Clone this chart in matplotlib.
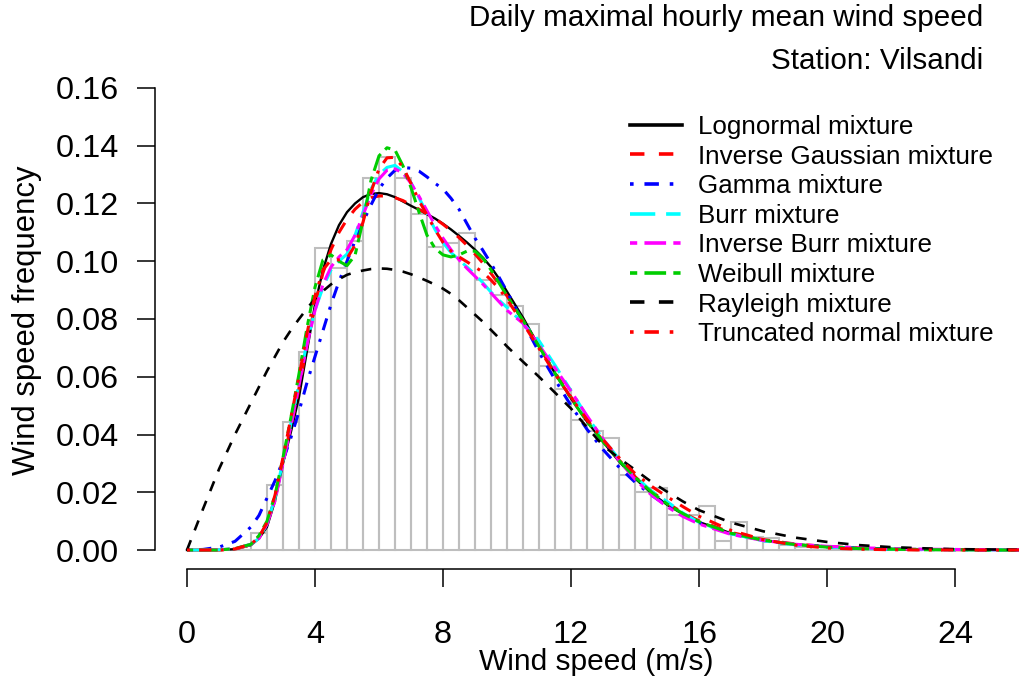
import numpy as np
import matplotlib
matplotlib.use("Agg")
import matplotlib.pyplot as plt

plt.rcParams['font.family'] = ['Liberation Sans', 'DejaVu Sans']

# ---------------- data ----------------
bin_width = 0.5
bin_left = [0.0, 0.5, 1.0, 1.5, 2.0, 2.5, 3.0, 3.5, 4.0, 4.5, 5.0, 5.5, 6.0, 6.5,
            7.0, 7.5, 8.0, 8.5, 9.0, 9.5, 10.0, 10.5, 11.0, 11.5, 12.0, 12.5,
            13.0, 13.5, 14.0, 14.5, 15.0, 15.5, 16.0, 16.5, 17.0, 17.5, 18.0,
            18.5, 19.0, 19.5, 20.0, 20.5, 21.0, 21.5, 22.0, 22.5, 23.0, 23.5,
            24.0, 24.5]
hist_density = [0, 0, 0, 0, 0.0058, 0.0225, 0.0444, 0.0687, 0.1047, 0.0975,
                0.1070, 0.1287, 0.1360, 0.1287, 0.1165, 0.1049, 0.1062, 0.1099,
                0.0935, 0.0883, 0.0846, 0.0783, 0.0638, 0.0556, 0.0450, 0.0412,
                0.0387, 0.0261, 0.0201, 0.0215, 0.0121, 0.0121, 0.0151, 0.0031,
                0.0098, 0.0046, 0.0040, 0.0017, 0.0012, 0.0012, 0.0006, 0.0006,
                0.0003, 0, 0, 0, 0, 0, 0, 0]

x_grid = [0, 0.5, 1, 1.5, 2, 2.25, 2.5, 2.75, 3, 3.25, 3.5, 3.75, 4, 4.25, 4.5,
          4.75, 5, 5.25, 5.5, 5.75, 6, 6.25, 6.5, 6.75, 7, 7.25, 7.5, 7.75, 8,
          8.25, 8.5, 8.75, 9, 9.25, 9.5, 9.75, 10, 10.5, 11, 11.5, 12, 12.5, 13,
          13.5, 14, 14.5, 15, 15.5, 16, 17, 18, 19, 20, 21, 22, 23, 24, 25, 26]

lognormal = [0, 0, 0, 0.0003, 0.0017, 0.004, 0.008, 0.017, 0.030, 0.041, 0.053,
             0.069, 0.085, 0.097, 0.106, 0.1125, 0.117, 0.1200, 0.1222, 0.1233,
             0.1236, 0.1232, 0.1222, 0.1207, 0.1192, 0.1178, 0.1163, 0.1148,
             0.1130, 0.1110, 0.1088, 0.1065, 0.1040, 0.1012, 0.0980, 0.0940,
             0.0895, 0.0805, 0.0705, 0.0612, 0.0525, 0.0445, 0.0375, 0.0307,
             0.0248, 0.0198, 0.0157, 0.0124, 0.0097, 0.0058, 0.0034, 0.0020,
             0.0012, 0.0007, 0.0004, 0.0002, 0.0001, 0.00005, 0]

inv_gaussian = [0, 0, 0, 0.0003, 0.0018, 0.0045, 0.009, 0.018, 0.031, 0.043,
                0.056, 0.071, 0.085, 0.096, 0.104, 0.110, 0.1145, 0.118, 0.1205,
                0.1220, 0.1226, 0.1226, 0.1220, 0.1210, 0.1195, 0.1180, 0.1165,
                0.1148, 0.1128, 0.1106, 0.1082, 0.1055, 0.1025, 0.0993, 0.0958,
                0.0920, 0.0880, 0.0795, 0.0705, 0.0615, 0.0530, 0.0450, 0.0378,
                0.0312, 0.0254, 0.0205, 0.0163, 0.0129, 0.0101, 0.0061, 0.0036,
                0.0021, 0.0012, 0.0007, 0.0004, 0.0002, 0.0001, 0.00005, 0]

gamma = [0, 0.0002, 0.001, 0.003, 0.008, 0.012, 0.018, 0.024, 0.031, 0.039,
         0.048, 0.058, 0.067, 0.076, 0.085, 0.093, 0.100, 0.107, 0.1135,
         0.1195, 0.125, 0.1288, 0.1315, 0.1325, 0.1322, 0.1312, 0.1292, 0.1270,
         0.1250, 0.1218, 0.1180, 0.1130, 0.1080, 0.1037, 0.0992, 0.0945,
         0.0895, 0.0790, 0.0685, 0.0590, 0.0500, 0.0418, 0.0348, 0.0287,
         0.0235, 0.0191, 0.0153, 0.0121, 0.0095, 0.0057, 0.0033, 0.0019,
         0.0011, 0.0006, 0.0003, 0.00015, 0.0001, 0.00005, 0]

burr = [0, 0, 0.0001, 0.0004, 0.002, 0.004, 0.009, 0.018, 0.031, 0.044, 0.058,
        0.072, 0.083, 0.091, 0.097, 0.100, 0.1025, 0.109, 0.117, 0.125, 0.130,
        0.1325, 0.1332, 0.1310, 0.1272, 0.1220, 0.1165, 0.1110, 0.1065,
        0.1030, 0.1005, 0.0980, 0.0955, 0.0925, 0.0893, 0.0865, 0.0840,
        0.0785, 0.0725, 0.0640, 0.0552, 0.0462, 0.0385, 0.0315, 0.0256,
        0.0205, 0.0168, 0.0128, 0.0096, 0.0056, 0.0032, 0.0018, 0.0010,
        0.0006, 0.0003, 0.0002, 0.0001, 0.00005, 0]

inv_burr = [0, 0, 0.0001, 0.0004, 0.002, 0.004, 0.009, 0.017, 0.030, 0.043,
            0.057, 0.071, 0.083, 0.092, 0.098, 0.1015, 0.104, 0.109, 0.116,
            0.123, 0.1285, 0.1315, 0.1320, 0.1305, 0.1270, 0.1225, 0.1175,
            0.1125, 0.1080, 0.1040, 0.1005, 0.0975, 0.0948, 0.0920, 0.0890,
            0.0860, 0.0830, 0.0785, 0.0710, 0.0630, 0.0550, 0.0465, 0.0385,
            0.0310, 0.0245, 0.0192, 0.0150, 0.0116, 0.0090, 0.0054, 0.0033,
            0.0020, 0.0013, 0.0008, 0.0005, 0.0003, 0.0002, 0.0001, 0.0001]

weibull = [0, 0, 0, 0.0005, 0.002, 0.005, 0.010, 0.019, 0.032, 0.046, 0.061,
           0.077, 0.091, 0.1005, 0.1022, 0.1000, 0.0985, 0.1020, 0.1140,
           0.1280, 0.1365, 0.1393, 0.1385, 0.1330, 0.1255, 0.1170, 0.1090,
           0.1045, 0.1022, 0.1015, 0.1022, 0.1035, 0.1035, 0.1010, 0.0970,
           0.0925, 0.0880, 0.0795, 0.0705, 0.0612, 0.0525, 0.0445, 0.0375,
           0.0310, 0.0252, 0.0202, 0.0160, 0.0126, 0.0098, 0.0058, 0.0034,
           0.0019, 0.0010, 0.0005, 0.0003, 0.0001, 0.0001, 0, 0]

rayleigh = [0, 0.0142, 0.028, 0.040, 0.051, 0.0565, 0.062, 0.067, 0.0720,
            0.0762, 0.0800, 0.0836, 0.0870, 0.0897, 0.0920, 0.0938, 0.0953,
            0.0962, 0.0968, 0.0973, 0.0975, 0.0974, 0.0970, 0.0964, 0.0955,
            0.0944, 0.0932, 0.0919, 0.0905, 0.0887, 0.0865, 0.0840, 0.0815,
            0.0790, 0.0762, 0.0734, 0.0705, 0.0652, 0.0600, 0.0545, 0.0490,
            0.0425, 0.0362, 0.0318, 0.0278, 0.0237, 0.0202, 0.0168, 0.0138,
            0.0095, 0.0065, 0.0043, 0.0028, 0.0017, 0.0010, 0.0006, 0.0003,
            0.0002, 0.0001]

trunc_normal = [0, 0, 0, 0.0004, 0.002, 0.0045, 0.0095, 0.019, 0.032, 0.046,
                0.060, 0.075, 0.088, 0.097, 0.1005, 0.1005, 0.1010, 0.1055,
                0.1135, 0.1240, 0.1320, 0.1358, 0.1360, 0.1325, 0.1270, 0.1210,
                0.1160, 0.1110, 0.1065, 0.1035, 0.1015, 0.0998, 0.0980, 0.0962,
                0.0935, 0.0905, 0.0868, 0.0785, 0.0698, 0.0610, 0.0528, 0.0452,
                0.0382, 0.0320, 0.0265, 0.0222, 0.0185, 0.0150, 0.0117, 0.0068,
                0.0036, 0.0017, 0.0007, 0.0003, 0.0001, 0, 0, 0, 0]

series_labels = ["Lognormal mixture", "Inverse Gaussian mixture", "Gamma mixture",
                 "Burr mixture", "Inverse Burr mixture", "Weibull mixture",
                 "Rayleigh mixture", "Truncated normal mixture"]
series_values = [lognormal, inv_gaussian, gamma, burr, inv_burr, weibull,
                 rayleigh, trunc_normal]

x_ticks = [0, 4, 8, 12, 16, 20, 24]
y_ticks = [0.00, 0.02, 0.04, 0.06, 0.08, 0.10, 0.12, 0.14, 0.16]

# ---------------- styles ----------------
colors = ["#000000", "#FF0000", "#0000FF", "#00FFFF", "#FF00FF", "#00CD00",
          "#000000", "#FF0000"]
dashes = [None, (4, 4), (1, 3, 4, 3), (7, 3, 4, 3), (2, 2, 6, 2), (2, 2, 6, 2),
          (4, 4), (1, 3, 4, 3)]
widths = [1.7, 2.2, 2.2, 2.2, 2.2, 2.2, 1.9, 2.2]

W, H = 1019, 684
fig = plt.figure(figsize=(W / 100, H / 100), dpi=100)
ax = fig.add_axes([155 / W, (H - 568.5) / H, 864 / W, 499 / H])
ax.set_xlim(-1, 26)
ax.set_ylim(-0.0064, 0.1664)

ax.bar(bin_left, hist_density, width=bin_width, align='edge', fill=False,
       edgecolor='#BEBEBE', linewidth=1.5, zorder=1)

handles = []
for vals, lab, c, d, lw in zip(series_values, series_labels, colors, dashes, widths):
    ln, = ax.plot(x_grid, vals, color=c, linewidth=lw, label=lab, zorder=2,
                  solid_joinstyle='round')
    if d is not None:
        ln.set_dashes(d)
    handles.append(ln)

for s in ['top', 'right']:
    ax.spines[s].set_visible(False)
ax.spines['bottom'].set_bounds(0, 24)
ax.spines['left'].set_bounds(0, 0.16)
for s in ['bottom', 'left']:
    ax.spines[s].set_linewidth(1.1)

ax.set_xticks(x_ticks)
ax.set_xticklabels([str(v) for v in x_ticks])
ax.set_yticks(y_ticks)
ax.set_yticklabels([f"{v:.2f}" for v in y_ticks])
ax.tick_params(axis='both', length=13, width=1.1, labelsize=23.3, direction='out')
ax.tick_params(axis='x', pad=24)
ax.tick_params(axis='y', pad=13)

fig.text(596 / W, 1 - 662 / H, "Wind speed (m/s)", ha='center', va='center',
         fontsize=21.5)
fig.text(27 / W, 1 - 320 / H, "Wind speed frequency", ha='center', va='center',
         rotation=90, fontsize=22.3)
fig.text(983 / W, 1 - 18 / H, "Daily maximal hourly mean wind speed",
         ha='right', va='center', fontsize=21.3)
fig.text(983 / W, 1 - 61 / H, "Station: Vilsandi", ha='right', va='center',
         fontsize=21.3)

leg = ax.legend(handles=handles, loc='upper left',
                bbox_to_anchor=(630 / W, 1 - 115 / H), bbox_transform=fig.transFigure,
                frameon=False, fontsize=18.7, handlelength=2.0, handletextpad=0.6,
                labelspacing=0.215, borderpad=0, borderaxespad=0)
for lh in leg.get_lines():
    lh.set_linewidth(2.6)

fig.savefig("out.png", dpi=100)
